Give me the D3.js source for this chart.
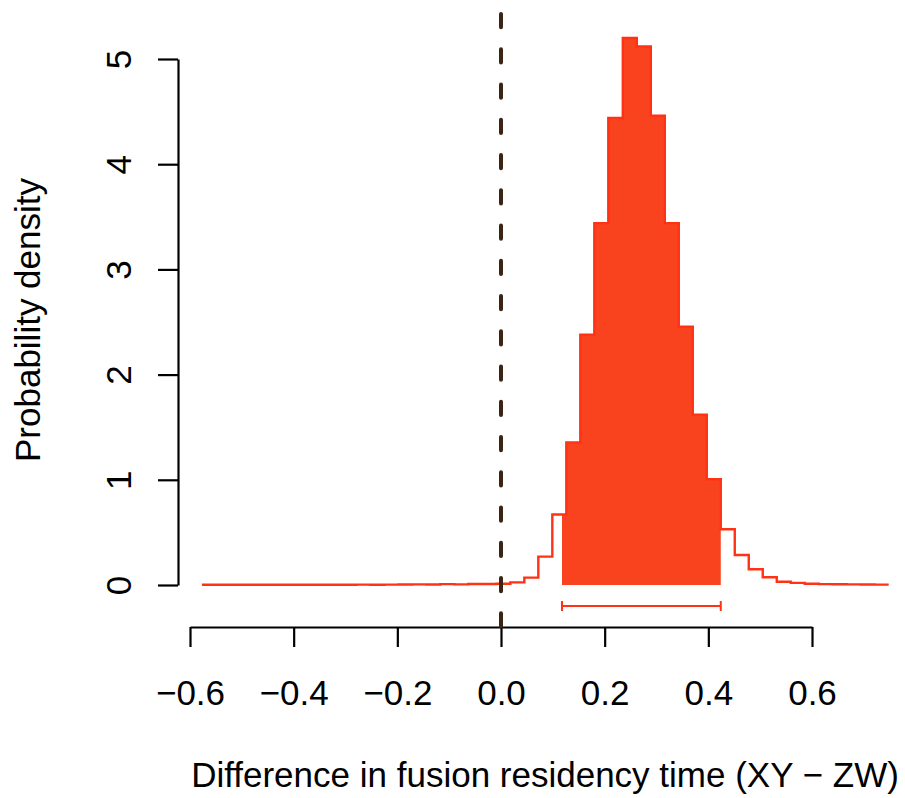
<!DOCTYPE html>
<html>
<head>
<meta charset="utf-8">
<script src="https://cdn.jsdelivr.net/npm/d3@7"></script>
<style>
  html, body { margin: 0; padding: 0; background: #ffffff; }
  svg { display: block; }
  text { font-family: "Liberation Sans", Arial, Helvetica, sans-serif; fill: #000; }
</style>
</head>
<body>
<svg id="chart" width="905" height="798"></svg>
<script>
// ---- data ----
// step positions (R type="s" style): value i holds from stepX[i] to stepX[i+1]
const stepX = [
  -0.577, -0.550, -0.523, -0.496, -0.469, -0.442, -0.415, -0.388, -0.361, -0.334,
  -0.307, -0.279, -0.252, -0.225, -0.198, -0.171, -0.144, -0.117, -0.090, -0.063,
  -0.036, -0.009,  0.018,  0.045,  0.072,  0.099,  0.126,  0.153,  0.180,  0.207,
   0.235,  0.262,  0.289,  0.316,  0.343,  0.370,  0.397,  0.424,  0.451,  0.478,
   0.505,  0.532,  0.559,  0.586,  0.613,  0.640,  0.667,  0.694,  0.721,  0.748
];
const density = [
  0.002, 0.002, 0.002, 0.002, 0.003, 0.002, 0.003, 0.003, 0.002, 0.003,
  0.003, 0.004, 0.003, 0.004, 0.005, 0.006, 0.005, 0.008, 0.006, 0.009,
  0.010, 0.012, 0.025, 0.070, 0.270, 0.670, 1.356, 2.380, 3.440, 4.440,
  5.200, 5.120, 4.460, 3.440, 2.455, 1.620, 1.005, 0.530, 0.285, 0.150,
  0.073, 0.031, 0.020, 0.012, 0.008, 0.007, 0.006, 0.005, 0.004, 0.004
];
const hdi = [0.1177, 0.4240];          // 95% HDI limits
const refValue = 0;                     // dashed reference line
const xTicks = [-0.6, -0.4, -0.2, 0.0, 0.2, 0.4, 0.6];
const yTicks = [0, 1, 2, 3, 4, 5];
const xTitle = "Difference in fusion residency time (XY \u2212 ZW)";
const yTitle = "Probability density";

// ---- scales ----
const x = d3.scaleLinear().domain([-0.6, 0.6]).range([190, 812]);
const y = d3.scaleLinear().domain([0, 5]).range([585, 59]);

const svg = d3.select("#chart");
const fillCol = "#F9421E";
const lineCol = "#FF3314";
const fontSize = 35;

const pts = stepX.map((d, i) => ({x: d, y: density[i]}));

// ---- HDI filled region (step function clipped to HDI) ----
function valueAt(v) {
  let idx = 0;
  for (let i = 0; i < stepX.length; i++) if (stepX[i] <= v) idx = i;
  return density[idx];
}
const fillPts = [{x: hdi[0], y: valueAt(hdi[0])}]
  .concat(pts.filter(p => p.x > hdi[0] && p.x < hdi[1]))
  .concat([{x: hdi[1], y: valueAt(hdi[1])}]);

const area = d3.area()
  .x(d => x(d.x)).y0(y(0)).y1(d => y(d.y))
  .curve(d3.curveStepAfter);
svg.append("path")
  .datum(fillPts)
  .attr("d", area)
  .attr("fill", fillCol)
  .attr("stroke", "none");

// ---- outline step line ----
const line = d3.line().x(d => x(d.x)).y(d => y(d.y)).curve(d3.curveStepAfter);
svg.append("path")
  .datum(pts)
  .attr("d", line)
  .attr("fill", "none")
  .attr("stroke", lineCol)
  .attr("stroke-width", 2.4);

// ---- HDI bar ----
const hdiY = y(-0.2);
const g = svg.append("g").attr("stroke", lineCol).attr("stroke-width", 2);
g.append("line").attr("x1", x(hdi[0])).attr("x2", x(hdi[1])).attr("y1", hdiY).attr("y2", hdiY);
hdi.forEach(h => g.append("line").attr("x1", x(h)).attr("x2", x(h)).attr("y1", hdiY - 5).attr("y2", hdiY + 5));

// ---- x axis ----
const xAxis = d3.axisBottom(x).tickValues(xTicks).tickSize(20).tickSizeOuter(0).tickPadding(33)
  .tickFormat(d => (d < 0 ? "\u2212" : "") + Math.abs(d).toFixed(1));
const gx = svg.append("g").attr("transform", "translate(0,627)").call(xAxis);
gx.selectAll("path, line").attr("stroke", "#000").attr("stroke-width", 2.2);
gx.selectAll("text").attr("font-size", fontSize).attr("font-family", "Liberation Sans, Arial, sans-serif").attr("fill", "#000");

// ---- y axis ----
const yAxis = d3.axisLeft(y).tickValues(yTicks).tickSize(20).tickSizeOuter(0).tickFormat("");
const gy = svg.append("g").attr("transform", "translate(178,0)").call(yAxis);
gy.selectAll("path, line").attr("stroke", "#000").attr("stroke-width", 2.2);
gy.selectAll(".tick").append("text")
  .attr("transform", "translate(-60,0) rotate(-90)")
  .attr("text-anchor", "middle")
  .attr("dy", "0.36em")
  .attr("font-size", fontSize)
  .attr("fill", "#000")
  .text(d => d);

// ---- dashed reference line ----
svg.append("line")
  .attr("x1", x(refValue)).attr("x2", x(refValue))
  .attr("y1", 14).attr("y2", 640)
  .attr("stroke", "#3C2415")
  .attr("stroke-width", 4)
  .attr("stroke-linecap", "round")
  .attr("stroke-dasharray", "13.25,22");

// ---- titles ----
svg.append("text")
  .attr("x", 545).attr("y", 787)
  .attr("text-anchor", "middle")
  .attr("font-size", fontSize)
  .text(xTitle);
svg.append("text")
  .attr("transform", "translate(40,320) rotate(-90)")
  .attr("text-anchor", "middle")
  .attr("font-size", fontSize)
  .text(yTitle);
</script>
</body>
</html>
